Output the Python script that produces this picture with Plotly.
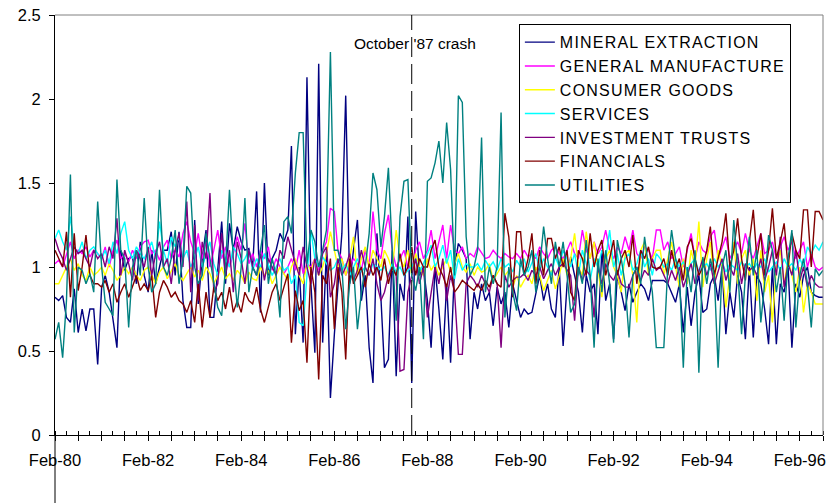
import pandas as pd
import plotly.graph_objects as go

# ---------------- data (monthly, Feb-80 .. Aug-96) ----------------
START = "1980-02-01"
N_MONTHS = 199
months = pd.date_range(START, periods=N_MONTHS, freq="MS")

TICK_LABELS = ["Feb-80", "Feb-82", "Feb-84", "Feb-86", "Feb-88",
               "Feb-90", "Feb-92", "Feb-94", "Feb-96"]

mineral_extraction = [
    0.82, 0.80, 0.83, 0.70, 0.67, 0.87, 0.61, 0.75, 0.62, 0.75, 0.75, 0.42,
    0.88, 0.95, 0.85, 0.70, 0.52, 1.10, 0.98, 1.05, 1.06, 0.90, 1.15, 0.95,
    0.85, 1.10, 0.90, 1.00, 1.10, 1.10, 1.21, 0.95, 1.21, 0.80, 0.64, 0.64,
    1.28, 0.78, 1.05, 1.22, 0.70, 0.70, 1.00, 1.27, 0.90, 1.26, 1.10, 1.24,
    1.15, 1.10, 1.11, 1.00, 1.45, 0.73, 1.50, 0.95, 1.05, 1.10, 1.20, 1.15,
    1.22, 1.72, 0.60, 1.00, 0.55, 2.13, 0.90, 0.49, 2.21, 0.55, 1.10, 0.22,
    0.60, 0.90, 1.20, 2.02, 0.90, 1.10, 1.28, 0.80, 0.95, 0.52, 0.31, 1.20,
    0.82, 0.40, 0.45, 1.10, 0.35, 0.90, 0.80, 1.30, 0.31, 1.33, 0.95, 1.00,
    0.80, 0.52, 1.00, 0.75, 0.45, 0.90, 0.43, 1.00, 1.14, 1.10, 1.05, 0.57,
    0.85, 0.75, 0.90, 0.80, 0.85, 0.65, 0.88, 0.78, 0.85, 0.64, 0.90, 0.80,
    0.70, 0.75, 0.72, 0.73, 0.85, 0.95, 0.80, 0.90, 0.75, 0.70, 1.00, 0.53,
    0.90, 1.06, 0.95, 0.85, 0.61, 0.95, 0.85, 0.90, 0.60, 1.10, 0.80, 0.90,
    0.57, 0.95, 0.85, 0.74, 0.90, 0.79, 0.85, 0.90, 0.87, 0.80, 0.92, 0.92,
    0.92, 0.92, 0.90, 0.85, 0.79, 0.90, 0.61, 0.88, 0.65, 0.85, 0.95, 0.73,
    0.75, 0.90, 0.95, 0.80, 1.00, 0.60, 0.85, 0.70, 0.95, 0.85, 0.57, 1.00,
    0.58, 0.95, 0.90, 0.75, 0.54, 1.00, 0.54, 0.90, 0.85, 1.00, 0.52, 0.90,
    0.82, 0.95, 1.00, 0.85, 0.83, 0.82, 0.82,
]

general_manufacture = [
    1.02, 1.04, 1.00, 1.08, 1.15, 1.05, 1.10, 1.08, 1.12, 1.06, 1.10, 1.08,
    1.05, 1.12, 1.00, 1.10, 1.16, 1.05, 1.08, 1.03, 1.10, 1.05, 1.12, 1.15,
    1.16, 1.08, 1.10, 1.04, 1.12, 1.16, 1.05, 1.10, 1.06, 1.20, 1.27, 1.15,
    1.08, 1.20, 1.05, 1.15, 1.00, 1.10, 1.22, 1.05, 1.12, 1.00, 1.08, 1.18,
    1.10, 1.26, 1.02, 1.08, 1.00, 1.10, 1.05, 1.12, 0.98, 1.05, 1.00, 0.96,
    1.00, 1.05, 0.98, 1.10, 0.96, 1.02, 1.00, 1.05, 0.98, 1.10, 1.15, 1.35,
    1.33, 1.10, 1.05, 0.95, 1.00, 1.05, 1.02, 0.98, 1.10, 1.00, 1.33, 1.10,
    1.05, 1.20, 1.31, 1.10, 1.00, 1.05, 1.10, 1.00, 0.98, 1.10, 1.15, 1.05,
    1.10, 1.22, 1.05, 1.15, 1.25, 1.05, 1.25, 1.10, 1.08, 1.12, 1.05, 1.08,
    1.06, 1.12, 1.08, 1.05, 1.06, 1.10, 1.07, 1.05, 1.08, 1.06, 1.05, 1.08,
    1.05, 1.10, 1.06, 1.08, 1.05, 1.12, 1.08, 1.05, 1.10, 1.12, 1.08, 1.05,
    1.10, 1.15, 1.08, 1.05, 1.22, 1.10, 1.05, 1.15, 1.08, 1.12, 1.22, 1.10,
    1.05, 1.12, 1.08, 1.18, 1.10, 1.22, 1.08, 1.05, 1.12, 1.10, 1.05, 1.22,
    1.22, 1.10, 1.15, 1.05, 1.08, 1.12, 1.00, 1.10, 1.20, 1.05, 1.15, 1.10,
    1.08, 1.18, 1.22, 1.05, 1.12, 1.18, 1.05, 1.10, 1.15, 1.08, 1.20, 1.10,
    1.05, 1.12, 1.20, 1.08, 1.10, 1.15, 1.05, 1.12, 1.18, 1.10, 1.15, 1.05,
    1.10, 1.15, 1.00, 1.08, 1.00, 0.98, 1.00,
]

consumer_goods = [
    0.90, 0.90, 0.95, 1.00, 1.05, 0.98, 1.02, 0.95, 0.92, 1.00, 0.95, 0.97,
    1.00, 0.95, 1.02, 0.98, 0.92, 0.95, 1.00, 0.96, 1.00, 0.95, 0.92, 0.98,
    1.00, 0.95, 0.90, 0.97, 1.00, 0.93, 0.98, 1.02, 0.95, 0.92, 0.96, 1.00,
    0.94, 0.98, 0.92, 1.00, 0.96, 0.90, 0.95, 1.00, 0.93, 0.96, 0.92, 0.98,
    0.95, 0.90, 0.97, 0.93, 0.92, 1.00, 0.95, 0.98, 0.90, 0.95, 1.00, 0.96,
    0.92, 1.00, 1.05, 0.95, 0.90, 1.02, 0.98, 1.05, 0.95, 1.00, 1.08, 1.21,
    1.10, 1.00, 1.05, 0.95, 1.05, 1.18, 0.95, 1.05, 1.12, 1.00, 1.10, 1.05,
    1.00, 1.10, 1.05, 0.98, 1.22, 1.05, 1.00, 1.10, 0.95, 1.08, 1.00, 0.95,
    1.05, 0.98, 1.02, 0.95, 1.00, 1.05, 0.97, 1.02, 1.08, 1.00, 0.97, 1.02,
    0.95, 1.00, 0.97, 0.98, 1.02, 0.92, 0.96, 1.00, 0.95, 0.98, 0.88, 0.95,
    0.88, 0.92, 0.95, 0.90, 1.00, 0.95, 0.86, 0.92, 0.98, 0.87, 0.95, 1.05,
    0.95, 1.05, 1.20, 1.00, 0.95, 1.21, 1.05, 1.15, 1.00, 0.82, 1.05, 1.10,
    1.00, 0.95, 0.85, 1.08, 1.10, 0.95, 0.67, 1.10, 1.15, 0.95, 1.05, 1.10,
    1.10, 0.95, 1.05, 1.15, 1.00, 0.88, 1.05, 0.90, 1.10, 1.00, 1.27, 0.88,
    1.05, 1.15, 0.90, 1.10, 1.00, 0.76, 0.95, 1.15, 0.90, 1.05, 1.10, 0.95,
    1.05, 0.80, 1.10, 0.85, 0.95, 0.67, 1.00, 1.10, 0.90, 1.05, 0.95, 0.85,
    1.00, 0.73, 0.90, 0.85, 0.78, 0.78, 0.78,
]

services = [
    1.17, 1.22, 1.15, 1.10, 1.30, 1.12, 1.08, 1.15, 1.05, 1.10, 1.12, 1.08,
    1.05, 1.10, 1.02, 1.15, 1.08, 1.20, 1.27, 1.10, 1.05, 1.12, 1.08, 1.05,
    1.10, 1.15, 1.05, 1.27, 1.10, 1.02, 1.18, 1.12, 1.18, 1.05, 1.10, 1.00,
    1.05, 1.12, 1.00, 1.08, 1.15, 1.02, 0.95, 1.10, 1.05, 1.00, 1.12, 1.08,
    1.02, 1.05, 1.10, 0.98, 1.05, 1.00, 1.08, 1.02, 0.95, 1.00, 1.05, 0.98,
    1.00, 0.90, 0.95, 0.67, 0.65, 0.95, 1.22, 1.05, 1.00, 1.06, 1.02, 0.98,
    1.00, 1.05, 0.98, 1.02, 0.95, 1.00, 1.05, 0.97, 1.00, 0.95, 1.02, 1.00,
    0.98, 1.00, 0.95, 1.02, 0.97, 1.00, 0.95, 0.98, 1.00, 1.05, 0.97, 1.02,
    1.08, 1.13, 1.00, 1.05, 1.13, 1.02, 1.10, 0.93, 1.05, 0.98, 1.02, 1.00,
    1.00, 1.02, 0.98, 1.04, 1.00, 1.03, 0.98, 1.05, 1.00, 1.02, 0.97, 1.04,
    1.00, 1.05, 0.97, 1.02, 1.08, 0.98, 1.05, 1.00, 0.95, 1.06, 1.00, 1.10,
    1.05, 1.00, 1.08, 0.95, 1.10, 1.02, 0.92, 1.05, 1.00, 1.10, 1.05, 1.22,
    1.00, 1.08, 0.95, 1.05, 1.08, 0.98, 1.02, 1.10, 1.00, 1.05, 0.95, 1.08,
    1.05, 1.00, 1.02, 0.98, 1.05, 1.00, 1.03, 0.98, 1.02, 1.05, 0.97, 1.00,
    1.02, 0.98, 1.05, 1.00, 1.03, 0.97, 1.02, 1.00, 0.98, 1.03, 1.00, 1.02,
    0.98, 1.02, 1.00, 1.05, 0.97, 1.00, 1.03, 0.98, 1.05, 1.00, 1.02, 0.98,
    1.05, 1.00, 1.12, 1.08, 1.13, 1.10, 1.15,
]

investment_trusts = [
    1.17, 1.10, 1.05, 0.98, 1.05, 1.12, 1.08, 1.10, 1.05, 1.00, 1.10, 1.05,
    1.08, 1.00, 1.12, 1.05, 1.29, 0.95, 1.10, 1.02, 0.92, 1.10, 1.05, 1.00,
    1.12, 0.95, 1.08, 1.15, 1.00, 1.05, 0.90, 1.10, 1.20, 1.00, 1.39, 0.85,
    1.25, 0.80, 1.15, 1.05, 1.44, 0.85, 0.90, 1.20, 0.95, 1.10, 0.85, 1.15,
    1.05, 0.90, 1.10, 1.00, 0.95, 1.08, 0.92, 1.05, 1.00, 0.95, 1.10, 1.05,
    1.18, 1.10, 1.02, 0.95, 1.12, 1.00, 0.90, 1.05, 0.95, 1.08, 1.12, 0.82,
    0.90, 1.05, 0.95, 1.00, 1.08, 0.92, 0.98, 1.10, 1.00, 0.95, 1.05, 0.90,
    0.80, 0.85, 0.95, 1.00, 0.95, 0.38, 0.39, 0.85, 0.95, 1.05, 0.90, 1.00,
    0.70, 0.85, 1.00, 0.90, 1.05, 0.80, 0.95, 0.85, 0.48, 0.48, 0.90, 0.95,
    0.92, 0.88, 0.95, 0.90, 0.85, 0.95, 0.90, 0.52, 0.95, 0.88, 0.92, 0.94,
    0.94, 0.96, 0.92, 0.98, 0.95, 1.00, 0.93, 0.98, 1.02, 0.95, 1.00, 1.02,
    0.98, 0.95, 0.68, 1.00, 0.92, 0.98, 0.95, 0.70, 1.00, 0.90, 1.02, 0.95,
    0.92, 0.98, 0.90, 0.88, 0.88, 0.95, 1.00, 0.92, 0.98, 0.95, 1.05, 0.98,
    1.00, 0.95, 0.90, 0.98, 0.92, 1.00, 0.88, 0.95, 1.02, 0.90, 0.98, 1.05,
    0.95, 1.02, 0.90, 0.98, 1.05, 0.92, 1.00, 0.95, 1.08, 0.90, 1.02, 0.98,
    1.00, 0.95, 1.05, 0.92, 1.00, 1.10, 0.95, 1.18, 0.88, 1.02, 0.95, 1.10,
    0.92, 1.00, 0.88, 0.95, 0.90, 0.88, 0.88,
]

financials = [
    1.10, 1.05, 1.00, 1.21, 0.82, 1.20, 0.86, 1.00, 1.19, 0.95, 0.90, 0.90,
    0.88, 0.92, 0.85, 0.90, 0.79, 0.85, 0.90, 0.82, 0.88, 0.95, 0.86, 0.90,
    0.86, 0.95, 0.70, 0.85, 0.92, 0.88, 0.82, 0.85, 0.80, 0.78, 0.73, 0.80,
    0.67, 0.90, 0.64, 0.85, 0.70, 0.88, 0.80, 0.85, 0.75, 0.88, 0.73, 0.80,
    0.73, 0.85, 0.80, 0.78, 0.88, 0.75, 0.67, 0.77, 0.85, 0.90, 0.80, 0.88,
    0.96, 0.55, 0.86, 0.74, 0.80, 0.43, 1.00, 0.85, 0.33, 0.95, 0.90, 1.05,
    0.63, 1.00, 0.85, 0.45, 1.05, 0.90, 0.95, 1.00, 0.88, 1.02, 0.95, 1.00,
    0.92, 1.05, 0.90, 1.00, 0.95, 1.08, 0.95, 1.00, 1.12, 0.95, 1.05, 1.00,
    1.00, 1.10, 1.16, 1.00, 0.95, 0.88, 1.00, 0.85, 0.88, 0.92, 0.90, 0.88,
    0.86, 0.90, 0.86, 0.92, 0.88, 0.95, 0.90, 0.88, 1.32, 1.18, 0.82, 1.21,
    1.21, 0.95, 1.05, 1.20, 0.90, 1.10, 0.95, 1.17, 1.17, 1.05, 1.12, 1.00,
    1.10, 0.85, 0.80, 1.10, 1.05, 0.95, 1.20, 1.00, 1.10, 1.16, 0.95, 1.05,
    1.16, 0.95, 1.05, 1.10, 1.00, 1.19, 0.90, 1.10, 1.05, 1.12, 1.00, 0.99,
    1.00, 1.05, 0.95, 1.10, 0.99, 1.05, 0.92, 1.12, 1.17, 1.05, 0.95, 1.00,
    1.10, 1.24, 0.95, 1.05, 1.15, 1.32, 1.00, 1.10, 1.29, 1.05, 0.92, 1.15,
    1.34, 1.05, 1.20, 0.95, 1.10, 1.35, 1.05, 1.15, 1.26, 1.00, 1.20, 1.10,
    1.05, 1.34, 1.34, 1.00, 1.33, 1.33, 1.28,
]

utilities = [
    0.57, 0.67, 0.46, 0.80, 1.55, 0.61, 1.00, 0.98, 0.90, 0.96, 0.85, 1.39,
    1.00, 0.79, 0.75, 0.71, 1.52, 1.10, 1.05, 0.64, 1.00, 1.10, 0.95, 1.41,
    1.00, 0.85, 0.90, 1.46, 1.00, 0.95, 1.05, 1.22, 0.90, 1.04, 1.48, 1.44,
    1.00, 0.90, 0.95, 1.20, 1.05, 0.90, 0.76, 0.71, 1.00, 1.46, 1.05, 0.76,
    1.00, 1.41, 0.85, 1.00, 0.95, 1.10, 1.25, 0.90, 1.05, 0.95, 0.70, 1.27,
    1.30, 1.20, 1.56, 1.80, 1.80, 1.02, 1.22, 1.15, 1.00, 1.10, 1.22, 2.28,
    1.10, 1.10, 1.00, 0.63, 0.90, 1.00, 0.63, 0.85, 1.00, 1.20, 1.56, 1.46,
    1.12, 1.30, 1.59, 1.10, 0.68, 1.30, 1.51, 1.52, 0.95, 0.86, 1.00, 0.57,
    1.51, 1.53, 1.62, 1.75, 1.50, 1.86, 1.58, 0.95, 2.02, 1.98, 1.18, 0.95,
    1.00, 1.10, 1.77, 0.85, 1.00, 0.90, 1.00, 1.92, 0.70, 1.00, 0.85, 0.74,
    1.05, 0.95, 1.00, 1.10, 0.85, 1.00, 1.24, 1.05, 0.90, 1.15, 1.00, 1.15,
    0.95, 0.73, 0.78, 1.00, 0.90, 1.16, 0.95, 0.52, 1.05, 0.85, 1.10, 0.90,
    0.55, 1.16, 1.05, 0.90, 0.58, 0.95, 1.00, 0.90, 1.18, 1.00, 0.85, 0.52,
    0.52, 0.52, 1.00, 1.22, 1.05, 0.95, 0.40, 1.00, 0.85, 1.10, 0.37, 1.06,
    0.90, 1.05, 0.95, 0.40, 1.00, 1.10, 0.85, 1.28, 1.00, 0.60, 0.95, 1.18,
    0.95, 1.10, 0.67, 0.90, 1.19, 1.10, 0.85, 1.00, 0.68, 1.05, 1.22, 0.64,
    0.95, 1.05, 0.90, 0.64, 0.99, 0.95, 0.98,
]

SERIES = [
    ("MINERAL EXTRACTION", mineral_extraction, "#000080"),
    ("GENERAL MANUFACTURE", general_manufacture, "#FF00FF"),
    ("CONSUMER GOODS", consumer_goods, "#FFFF00"),
    ("SERVICES", services, "#00FFFF"),
    ("INVESTMENT TRUSTS", investment_trusts, "#800080"),
    ("FINANCIALS", financials, "#800000"),
    ("UTILITIES", utilities, "#008080"),
]

CRASH_DATE = "1987-10-01"
CRASH_LABEL = "October '87 crash"

# ---------------- figure ----------------
FONT = "Liberation Sans, Arial, Helvetica, sans-serif"
fig = go.Figure()
for name, vals, color in SERIES:
    fig.add_trace(go.Scatter(
        x=months, y=vals, mode="lines",
        name=f'<span style="letter-spacing:1.2px">{name}</span>',
        legendgroup=name,
        line=dict(color=color, width=1.4),
    ))

# x ticks: every 6 months, labels every 2 years
six_monthly = pd.date_range(START, months[-1], freq="6MS")
label_map = {pd.Timestamp(f"19{lab[-2:]}-02-01"): lab for lab in TICK_LABELS}
tick_text = [label_map.get(t, "") for t in six_monthly]

fig.update_layout(
    width=828, height=503,
    margin=dict(l=55, r=5, t=15, b=68, autoexpand=False),
    paper_bgcolor="white", plot_bgcolor="white",
    font=dict(family=FONT, color="black"),
    showlegend=True,
    legend=dict(
        x=0.604, y=0.978, xanchor="left", yanchor="top",
        bgcolor="white", bordercolor="black", borderwidth=1,
        font=dict(size=16, family=FONT, color="black"),
        tracegroupgap=0, traceorder="normal",
    ),
    xaxis=dict(
        type="date", range=[START, months[-1]], automargin=False,
        tickmode="array", tickvals=list(six_monthly), ticktext=tick_text,
        ticks="outside", ticklen=5, tickwidth=1, tickcolor="black",
        showline=True, linecolor="black", linewidth=1,
        showgrid=False, zeroline=False,
        tickfont=dict(size=16.5, family=FONT, color="black"),
        ticklabelstandoff=5,
        minor=dict(ticks="inside", ticklen=4, tickwidth=1, tickcolor="black",
                   tickmode="linear", tick0=START, dtick="M3", showgrid=False),
    ),
    yaxis=dict(
        range=[0, 2.5], tickmode="linear", tick0=0, dtick=0.5, automargin=False,
        ticks="outside", ticklen=5, tickwidth=1, tickcolor="black",
        showline=True, linecolor="black", linewidth=1,
        showgrid=False, zeroline=False,
        tickfont=dict(size=16.5, family=FONT, color="black"),
        ticklabelstandoff=5,
    ),
    hovermode=False,
)

# plot-area border (top & right, grey), y-axis line extension, crash marker
fig.add_shape(type="line", xref="paper", yref="paper", x0=0, x1=1, y0=1, y1=1,
              line=dict(color="#808080", width=1))
fig.add_shape(type="line", xref="paper", yref="paper", x0=1, x1=1, y0=0, y1=1,
              line=dict(color="#808080", width=1))
fig.add_shape(type="line", xref="paper", yref="paper", ysizemode="pixel", yanchor=0,
              x0=0, x1=0, y0=0, y1=-70, line=dict(color="black", width=1))
fig.add_shape(type="line", xref="x", yref="y", x0=CRASH_DATE, x1=CRASH_DATE,
              y0=0, y1=2.5, line=dict(color="black", width=1, dash="20px,7px"))
fig.add_annotation(x=CRASH_DATE, xref="x", y=0.933, yref="paper", yanchor="middle",
                   text=CRASH_LABEL, showarrow=False, xshift=3,
                   font=dict(size=15.5, family=FONT, color="black"))

fig.write_html("out.html", config={"displayModeBar": False},
               post_script="document.body.style.margin='0';document.body.style.padding='0';")
